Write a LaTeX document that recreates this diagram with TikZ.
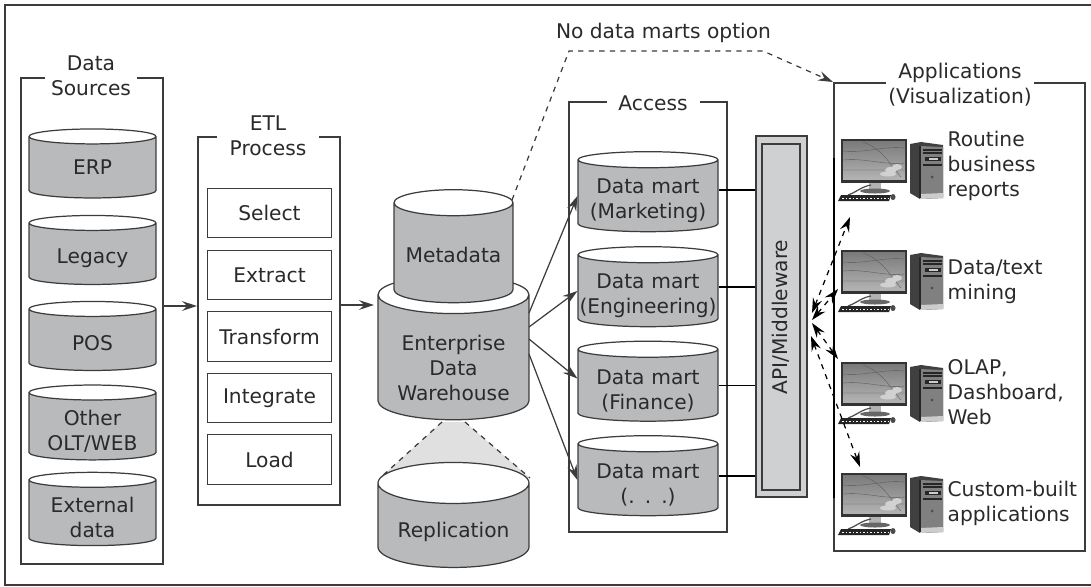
\documentclass[tikz,border=0pt]{standalone}
\usepackage{fontspec}
\setmainfont{DejaVu Sans}
\usetikzlibrary{shapes.geometric,arrows.meta}
\definecolor{dbgray}{HTML}{B9BABC}
\definecolor{apigray}{HTML}{CFD0D2}
\definecolor{linegray}{HTML}{3C3C3C}
\definecolor{textgray}{HTML}{2A2A2A}
\tikzset{
	every node/.style={font=\fontsize{11.5}{14.2}\selectfont, text=textgray, align=center, inner sep=0pt},
	db/.style 2 args={cylinder, shape border rotate=90, draw=linegray, cylinder uses custom fill, cylinder end fill=white, cylinder body fill=dbgray, minimum width=#1cm, minimum height=#2cm},
	drop/.style={execute at begin node={\rule{0pt}{#1cm}}},
	smalldb/.style={db={2.54}{1.38}, text width=2.3cm, aspect=.13},
	mart/.style={db={2.8}{1.6}, text width=2.74cm, aspect=.117, drop=.5},
	box/.style={draw=linegray, rectangle},
	etlstep/.style={box, minimum width=2.48cm, minimum height=.99cm},
	title/.style={fill=white},
	flow/.style={->, draw=linegray},
	feed/.style={dashed, <->, draw=black},
	pc/.pic={
		\fill [black!80] (0,0) rectangle (66,44);
		\fill [top color=black!52, bottom color=black!30] (2,2) rectangle (64,40);
		\draw [black!65, line width=.2pt] (2,12) to [out=-5,in=175] (64,9) (2,21) to [out=5,in=185] (64,24) (2,31) -- (64,31) (22,3) to [out=-20,in=130] (60,38);
		\fill [black!18] (50,31) ellipse [x radius=6, y radius=3] (56,28) ellipse [x radius=5, y radius=3] (47,35) ellipse [x radius=8, y radius=2.5];
		\fill [black!30] (28,44) rectangle (40,51);
		\fill [black!60] (34,52) ellipse [x radius=15, y radius=2.5];
		\draw [black!70] (30,46) to [out=190,in=20] (7,56);
		\fill [black!85] (-3,62) -- (0,56) -- (50,56) -- (48,62) -- cycle;
		\draw [white, line width=.5pt, dash pattern=on 1pt off 1pt] (1,59) -- (47,59);
		\fill [black!70] (52,58) ellipse [x radius=2.5, y radius=3];
		\fill [black!75] (69,5) -- (80,3) -- (102,6) -- (102,59) -- (79,60) -- (69,54) -- cycle;
		\fill [black!50] (79,7) -- (102,8) -- (102,58) -- (79,59) -- cycle;
		\fill [black!20] (79,55) -- (102,54) -- (102,59) -- (79,60) -- cycle;
		\fill [black!85] (84,18) rectangle (100,22);
		\draw [black!85] (82,11) -- (101,11) (82,14) -- (101,14) (82,26) -- (101,26);
		\fill [black!20] (88,19) rectangle (97,21);
		\fill [black!70] (91,38) circle [radius=1.5];
		\draw [black!85, line width=.8pt] (79,7) -- (79,59);
	}
}
\begin{document}
\begin{tikzpicture}[x=.02cm, y=-.02cm, line width=.7pt, >={Stealth[length=8.5pt,width=5.5pt,inset=3pt]}]
	
	\useasboundingbox (0,0) rectangle (1091,586);
	
	\draw [linegray] (1091,5) -- (5,5) -- (5,585) -- (1091,585);
	
	\node [box, minimum width=2.84cm, minimum height=9.72cm] (dsbox) at (92,321) {};
	\node [title, minimum width=1.84cm] (dstitle) at (91,76) {Data\\Sources};
	
	\node [smalldb] (erp) at (92.5,167.5) {ERP};
	\node [smalldb, drop=.46] (legacy) at (92.5,254) {Legacy};
	\node [smalldb, drop=.42] (pos) at (92.5,340) {POS};
	\node [smalldb, drop=.5] (other) at (92.5,426.5) {Other\\OLT/WEB};
	\node [smalldb, drop=.5] (external) at (92.5,513) {External\\data};
	
	\node [box, minimum width=2.84cm, minimum height=7.36cm] (etlbox) at (269,321) {};
	\node [title, minimum width=2.04cm] (etltitle) at (268,135.5) {ETL\\Process};
	
	\node [etlstep] (select) at (269.5,213) {Select};
	\node [etlstep] (extract) at (269.5,275) {Extract};
	\node [etlstep] (transform) at (269.5,336.5) {Transform};
	\node [etlstep] (integrate) at (269.5,398) {Integrate};
	\node [etlstep] (load) at (269.5,459.5) {Load};
	
	\coordinate (dsout) at (163,306);
	\coordinate (etlin) at (197,306);
	\coordinate (etlout) at (340,305);
	\coordinate (edwin) at (374,305);
	\draw [flow] (dsout) -- (etlin);
	\draw [flow] (etlout) -- (edwin);
	
	\coordinate (edwa) at (442,422);
	\coordinate (edwb) at (465,422);
	\coordinate (repa) at (380,478);
	\coordinate (repb) at (530,478);
	\fill [black!12] (edwa) -- (edwb) -- (repb) -- (repa) -- cycle;
	\draw [dashed, draw=linegray] (edwa) -- (repa);
	\draw [dashed, draw=linegray] (edwb) -- (repb);
	
	\node [db={3.02}{2.88}, text width=2.8cm, aspect=.27] (edw) at (453.5,357.5) {};
	\node (edwtext) at (453.5,368) {Enterprise\\Data\\Warehouse};
	\node [db={2.38}{2.26}, text width=2cm, aspect=.26, drop=.38] (metadata) at (453.5,253) {Metadata};
	\node [db={3.02}{2.1}, text width=2.8cm, aspect=.293, drop=.58] (replication) at (453.5,525.5) {Replication};
	
	\node [box, minimum width=3.16cm, minimum height=8.6cm] (accessbox) at (648,317) {};
	\node [title, minimum width=1.86cm] (accesstitle) at (653,103) {Access};
	
	\node [mart] (marketing) at (648,196) {Data mart\\(Marketing)};
	\node [mart] (engineering) at (648,291) {Data mart\\(Engineering)};
	\node [mart] (finance) at (648,385.5) {Data mart\\(Finance)};
	\node [mart] (others) at (648,480) {Data mart\\(. . .)};
	
	\node [box, fill=apigray, minimum width=1.02cm, minimum height=7.22cm] (api) at (781.5,316.5) {};
	\node [box, fill=apigray, minimum width=.76cm, minimum height=6.92cm] (apiinner) at (781,317) {};
	\node [rotate=90] (apitext) at (781,317) {API/Middleware};
	
	\draw ([yshift=.12cm]marketing.east) -- ([yshift=.12cm]marketing.east -| api.west);
	\draw ([yshift=.08cm]engineering.east) -- ([yshift=.08cm]engineering.east -| api.west);
	\draw (finance.east) -- (finance.east -| api.west);
	\draw ([yshift=.08cm]others.east) -- ([yshift=.08cm]others.east -| api.west);
	
	\coordinate (edwone) at (529,313);
	\coordinate (edwtwo) at (529,327);
	\coordinate (edwthree) at (529,339);
	\coordinate (edwfour) at (529,354);
	\draw [flow] (edwone) -- (marketing.west);
	\draw [flow] (edwtwo) -- (engineering.west);
	\draw [flow] (edwthree) -- ([yshift=.14cm]finance.west);
	\draw [flow] (edwfour) -- (others.west);
	
	\node [box, minimum width=5.02cm, minimum height=9.36cm] (appbox) at (959.5,317) {};
	\node [title, minimum width=2.96cm] (apptitle) at (960,85) {Applications\\(Visualization)};
	\draw [thick, draw=black] (834,158) -- (834,498);
	
	\node (nomarts) at (663.5,33) {No data marts option};
	\coordinate (metaout) at (512,200);
	\coordinate (bendone) at (569,51);
	\coordinate (bendtwo) at (763,51);
	\coordinate (appin) at (833,82);
	\draw [->, dashed, draw=linegray] (metaout) -- (bendone) -- (bendtwo) -- (appin);
	
	\pic at (841,139) {pc};
	\pic at (841,250) {pc};
	\pic at (841,362) {pc};
	\pic at (841,473) {pc};
	
	\node [right, align=left] (routine) at (947,166) {Routine\\business\\reports};
	\node [right, align=left] (mining) at (947,282) {Data/text\\mining};
	\node [right, align=left] (olap) at (947,392) {OLAP,\\Dashboard,\\Web};
	\node [right, align=left] (custom) at (947,503) {Custom-built\\applications};
	
	\coordinate (hubone) at (812,313);
	\coordinate (hubtwo) at (812,320);
	\coordinate (hubthree) at (812,323);
	\coordinate (hubfour) at (811,336);
	\coordinate (pcone) at (850,217);
	\coordinate (pctwo) at (838,289);
	\coordinate (pcthree) at (838,359);
	\coordinate (pcfour) at (860,467);
	\draw [feed] (hubone) -- (pcone);
	\draw [feed] (hubtwo) -- (pctwo);
	\draw [feed] (hubthree) -- (pcthree);
	\draw [feed] (hubfour) -- (pcfour);
	
\end{tikzpicture}
\end{document}
